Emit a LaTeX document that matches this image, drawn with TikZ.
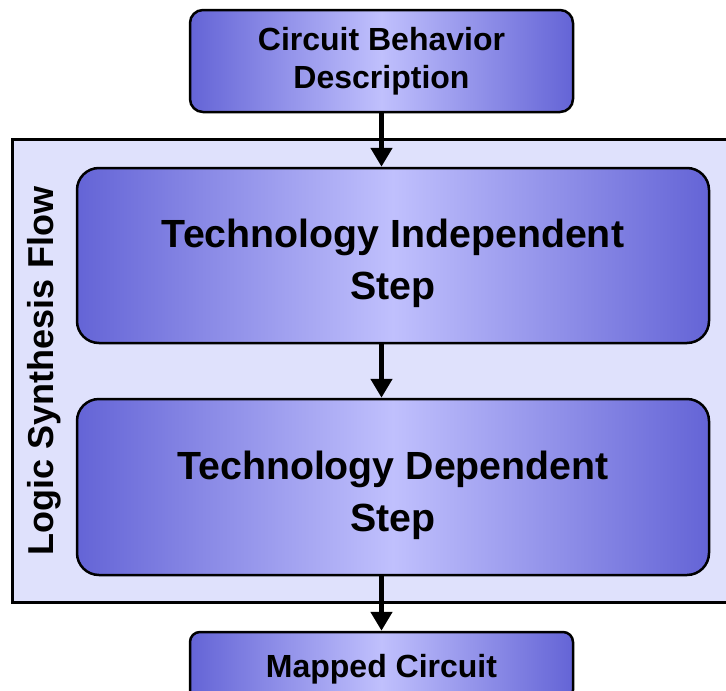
\documentclass[tikz,border=0pt]{standalone}
\usepackage{fontspec}
\setmainfont{Liberation Sans}
\usetikzlibrary{arrows.meta}
\definecolor{boxedge}{RGB}{100,100,214}
\definecolor{boxmid}{RGB}{192,192,253}
\definecolor{framefill}{RGB}{223,225,252}
% invisible strut that lowers the first text line inside a box
\newcommand{\firstlinestrut}[1]{\rule{0pt}{#1}}
\begin{document}
\begin{tikzpicture}[x=1pt,y=-1pt,
  flowbox/.style={draw=black, line width=2.5pt, align=center,
    left color=boxedge, right color=boxedge, middle color=boxmid,
    inner sep=0pt},
  smalltext/.style={font=\fontsize{32}{38}\selectfont\bfseries},
  bigtext/.style={font=\fontsize{39.3}{52}\selectfont\bfseries},
  flowarrow/.style={line width=5pt, -{Triangle[length=19pt,width=21pt]}}]
\useasboundingbox (0,0) rectangle (726,691);

% frame of the synthesis flow (runs off the right edge)
\draw[line width=3pt, fill=framefill] (12,139) rectangle (745,602);
\node[rotate=90, anchor=base, font=\fontsize{36}{40}\selectfont\bfseries]
  (title) at (53,371) {Logic Synthesis Flow};

% boxes
\node[flowbox, smalltext, rounded corners=13pt,
  minimum width=383pt, minimum height=102pt] (desc) at (381.5,61)
  {Circuit Behavior\\Description};
\node[flowbox, bigtext, rounded corners=22pt,
  minimum width=632pt, minimum height=175pt] (ind) at (393,255.5)
  {\firstlinestrut{45pt}Technology Independent\\Step};
\node[flowbox, bigtext, rounded corners=22pt,
  minimum width=632pt, minimum height=176pt] (dep) at (393,487)
  {\firstlinestrut{46pt}Technology Dependent\\Step};
\node[flowbox, smalltext, rounded corners=10pt,
  minimum width=383pt, minimum height=68pt] (mapped) at (381.5,666)
  {\firstlinestrut{30pt}Mapped Circuit};

% arrows
\draw[flowarrow] (desc.south) -- (desc.south |- ind.north);
\draw[flowarrow] (ind.south -| desc.south) -- (dep.north -| desc.south);
\draw[flowarrow] (dep.south -| desc.south) -- (mapped.north);
\end{tikzpicture}
\end{document}
